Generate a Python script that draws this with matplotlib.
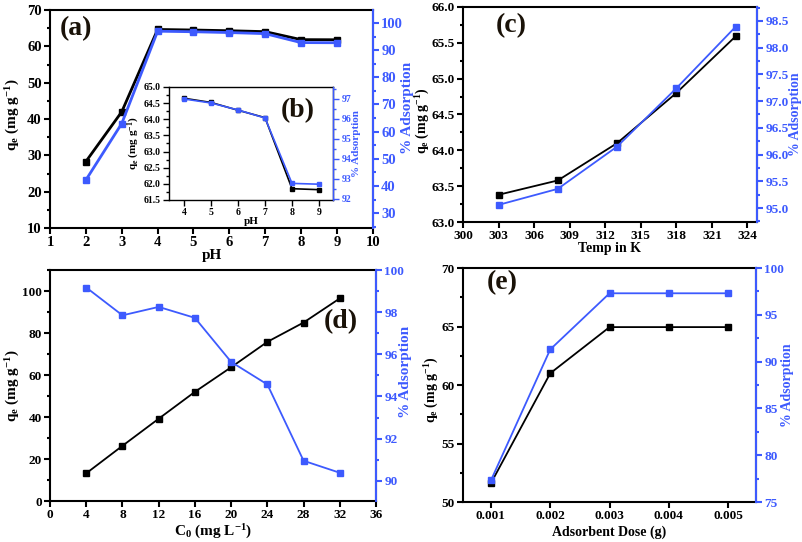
import matplotlib
matplotlib.use("Agg")
import matplotlib.pyplot as plt
from matplotlib.ticker import MultipleLocator, AutoMinorLocator

plt.rcParams["font.family"] = ["Liberation Serif", "DejaVu Serif"]
plt.rcParams["font.weight"] = "bold"
plt.rcParams["axes.labelweight"] = "bold"
plt.rcParams["mathtext.fontset"] = "custom"
plt.rcParams["mathtext.rm"] = "Liberation Serif:bold"
plt.rcParams["mathtext.it"] = "Liberation Serif:bold"
plt.rcParams["mathtext.bf"] = "Liberation Serif:bold"

BLUE = "#3d5afe"

# (a) effect of pH
ph = [2, 3, 4, 5, 6, 7, 8, 9]
qe_ph = [28.3, 42.0, 64.65, 64.5, 64.3, 64.05, 61.85, 61.82]
ads_ph = [42.2, 63.0, 97.0, 96.8, 96.5, 96.1, 92.8, 92.75]

# (b) inset, pH 4-9
ph_in = [4, 5, 6, 7, 8, 9]
qe_in = [64.65, 64.52, 64.28, 64.05, 61.85, 61.82]
ads_in = [97.0, 96.8, 96.45, 96.05, 92.78, 92.74]

# (c) effect of temperature
temp = [303, 308, 313, 318, 323]
qe_t = [63.38, 63.58, 64.1, 64.8, 65.59]
ads_t = [95.06, 95.36, 96.15, 97.24, 98.39]

# (d) effect of initial concentration
c0 = [4, 8, 12, 16, 20, 24, 28, 32]
qe_c = [13.2, 26.3, 39.2, 52.0, 63.7, 75.8, 85.0, 96.5]
ads_c = [99.17, 97.85, 98.25, 97.73, 95.64, 94.57, 90.95, 90.38]

# (e) effect of adsorbent dose
dose = [0.001, 0.002, 0.003, 0.004, 0.005]
qe_d = [51.6, 61.0, 64.95, 64.95, 64.95]
ads_d = [77.3, 91.3, 97.3, 97.3, 97.3]

QE_LABEL = r"q$_e$ (mg g$^{-1}$)"
ADS_LABEL = "% Adsorption"

fig = plt.figure(figsize=(8.03, 5.42), dpi=100)


def style(ax, axr, fs=9.5, lw=1.5):
    for s in ax.spines.values():
        s.set_linewidth(lw)
    axr.spines["right"].set_color(BLUE)
    axr.spines["right"].set_linewidth(lw)
    for s in ["left", "top", "bottom"]:
        axr.spines[s].set_visible(False)
    ax.tick_params(which="both", direction="out", width=lw, labelsize=fs, pad=2)
    ax.tick_params(which="major", length=4)
    ax.tick_params(which="minor", length=2.5)
    axr.tick_params(which="both", direction="out", width=lw, colors=BLUE, labelsize=fs, pad=2)
    axr.tick_params(which="major", length=4)
    axr.tick_params(which="minor", length=2.5)
    ax.yaxis.set_minor_locator(AutoMinorLocator(2))
    axr.yaxis.set_minor_locator(AutoMinorLocator(2))


def pair(ax, x, q, a, ms=4, lw=1.3):
    axr = ax.twinx()
    ax.plot(x, q, color="black", marker="s", ms=ms, lw=lw)
    axr.plot(x, a, color=BLUE, marker="s", ms=ms, lw=lw)
    return axr


def labels(ax, axr, xl, fs, lx, rx, ly=0.5, ry=0.5, xpad=0):
    ax.set_xlabel(xl, fontsize=fs, labelpad=xpad)
    ax.set_ylabel(QE_LABEL, fontsize=fs)
    axr.set_ylabel(ADS_LABEL, color=BLUE, fontsize=fs)
    ax.yaxis.set_label_coords(lx, ly)
    axr.yaxis.set_label_coords(rx, ry)


# (a)
ax = fig.add_axes([0.0623, 0.5793, 0.402, 0.4022])
axr = pair(ax, ph, qe_ph, ads_ph, ms=5, lw=2)
ax.set_xlim(1, 10)
ax.set_ylim(10, 70)
axr.set_ylim(24.5, 104.8)
ax.xaxis.set_major_locator(MultipleLocator(1))
axr.yaxis.set_major_locator(MultipleLocator(10))
style(ax, axr, fs=10.5)
labels(ax, axr, "pH", 11, -0.087, 1.087, ly=0.52, ry=0.55)
ax.text(0.03, 0.97, "(a)", transform=ax.transAxes, fontsize=20, va="top", color="#1a1208")

# (b) inset
axi = fig.add_axes([0.2105, 0.631, 0.2042, 0.2085])
axir = pair(axi, ph_in, qe_in, ads_in, ms=2.5, lw=1.2)
axi.set_xlim(3.44, 9.52)
axi.set_ylim(61.5, 65.0)
axir.set_ylim(91.95, 97.6)
axi.xaxis.set_major_locator(MultipleLocator(1))
axi.yaxis.set_major_locator(MultipleLocator(0.5))
axi.yaxis.set_major_formatter("{x:.1f}")
axir.yaxis.set_major_locator(MultipleLocator(1))
style(axi, axir, fs=7, lw=1.0)
axi.set_xlabel("pH", fontsize=8, labelpad=0)
axi.set_ylabel(QE_LABEL, fontsize=8, labelpad=1)
axir.set_ylabel(ADS_LABEL, color=BLUE, fontsize=8, labelpad=1)
axi.text(0.68, 0.9, "(b)", transform=axi.transAxes, fontsize=20, va="top", color="#1a1208")

# (c)
ax = fig.add_axes([0.5766, 0.5904, 0.366, 0.3967])
axr = pair(ax, temp, qe_t, ads_t)
ax.set_xlim(300, 324.8)
ax.set_ylim(63.0, 66.0)
axr.set_ylim(94.74, 98.76)
ax.xaxis.set_major_locator(MultipleLocator(3))
ax.yaxis.set_major_locator(MultipleLocator(0.5))
ax.yaxis.set_major_formatter("{x:.1f}")
axr.yaxis.set_major_locator(MultipleLocator(0.5))
axr.yaxis.set_major_formatter("{x:.1f}")
style(ax, axr)
labels(ax, axr, "Temp in K", 10, -0.105, 1.109, ly=0.47, ry=0.5)
ax.text(0.11, 0.97, "(c)", transform=ax.transAxes, fontsize=20, va="top", color="#1a1208")

# (d)
ax = fig.add_axes([0.0623, 0.0756, 0.406, 0.4262])
axr = pair(ax, c0, qe_c, ads_c)
ax.set_xlim(0, 36)
ax.set_ylim(0, 110)
axr.set_ylim(89.04, 100)
ax.xaxis.set_major_locator(MultipleLocator(4))
ax.yaxis.set_major_locator(MultipleLocator(20))
axr.yaxis.set_major_locator(MultipleLocator(2))
style(ax, axr)
labels(ax, axr, r"C$_0$ (mg L$^{-1}$)", 11, -0.086, 1.071, ly=0.5, ry=0.56, xpad=1)
ax.text(0.84, 0.83, "(d)", transform=ax.transAxes, fontsize=20, va="top", color="#1a1208")

# (e)
ax = fig.add_axes([0.5766, 0.0738, 0.365, 0.4317])
axr = pair(ax, dose, qe_d, ads_d)
ax.set_xlim(0.00053, 0.00547)
ax.set_ylim(50, 70)
axr.set_ylim(75, 100)
ax.set_xticks(dose)
ax.set_xticklabels([f"{d:.3f}" for d in dose])
ax.yaxis.set_major_locator(MultipleLocator(5))
axr.yaxis.set_major_locator(MultipleLocator(5))
style(ax, axr)
labels(ax, axr, "Adsorbent Dose (g)", 10, -0.075, 1.085, ly=0.48, ry=0.5, xpad=2)
ax.text(0.08, 0.99, "(e)", transform=ax.transAxes, fontsize=20, va="top", color="#1a1208")

fig.savefig("out.png", dpi=100)
